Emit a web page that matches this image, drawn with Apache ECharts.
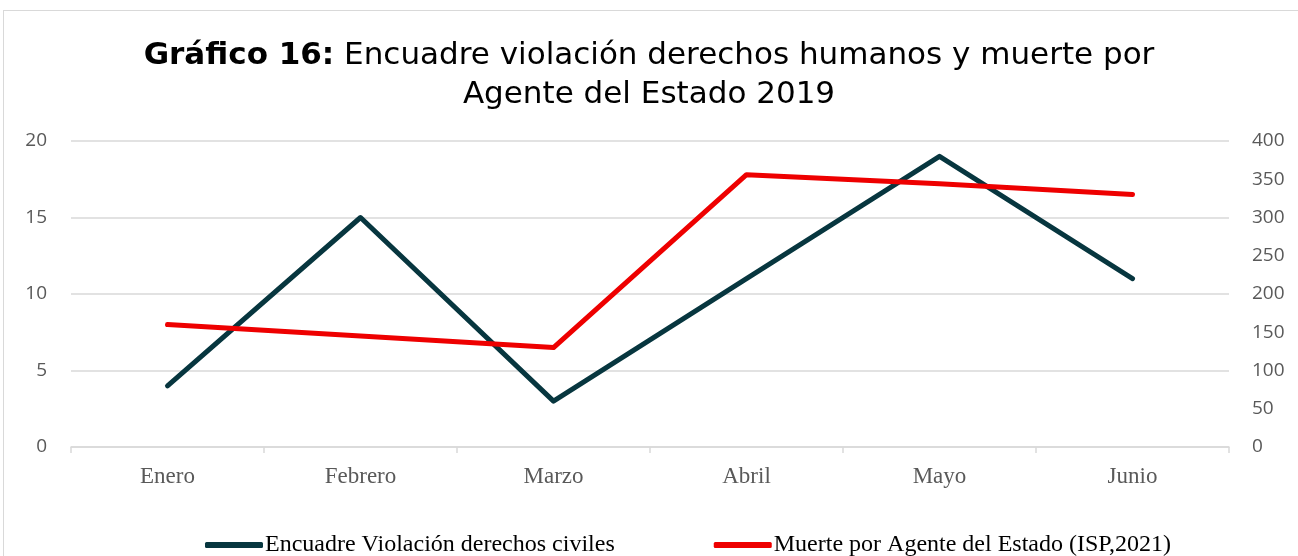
<!DOCTYPE html>
<html>
<head>
<meta charset="utf-8">
<script src="https://cdn.jsdelivr.net/npm/echarts@6/dist/echarts.min.js"></script>
<style>
html,body{margin:0;padding:0;background:#fff;overflow:hidden;}
#frame{position:absolute;left:3px;top:10px;width:1300px;height:560px;border:1.5px solid #d9d9d9;box-sizing:border-box;}
#chart{position:absolute;left:0;top:0;width:1298px;height:556px;}
</style>
</head>
<body>
<div id="frame"></div>
<div id="chart"></div>
<script>
var meses = ['Enero','Febrero','Marzo','Abril','Mayo','Junio'];
var violacion = [4, 15, 3, 11, 19, 11];
var muertes = [160, 145, 130, 356, 344, 330];
var nombreViolacion = 'Encuadre Violación derechos civiles';
var nombreMuertes = 'Muerte por Agente del Estado (ISP,2021)';

var chart = echarts.init(document.getElementById('chart'));
var option = {
	animation: false,
	title: {
		left: 'center',
		top: 31,
		padding: [5, 0, 5, 14],
		text: '{b|Gráfico 16:}{n| Encuadre violación derechos humanos y muerte por}\n{n|Agente del Estado 2019}',
		textStyle: {
			fontWeight: 'normal',
			rich: {
				b: { fontFamily: 'DejaVu Sans', fontWeight: 'bold', fontSize: 31, color: '#000', lineHeight: 39 },
				n: { fontFamily: 'DejaVu Sans', fontWeight: 'normal', fontSize: 31, color: '#000', lineHeight: 39 }
			}
		}
	},
	legend: {
		left: 200,
		top: 528,
		itemGap: 99,
		itemWidth: 58,
		itemHeight: 6,
		icon: 'roundRect',
		textStyle: {
			fontFamily: 'Liberation Serif',
			fontSize: 24,
			color: '#000',
			padding: [0, 0, 0, -3]
		},
		data: [nombreViolacion, nombreMuertes]
	},
	grid: { left: 71, right: 69, top: 141, bottom: 109 },
	xAxis: {
		type: 'category',
		data: meses,
		boundaryGap: true,
		axisLine: { lineStyle: { color: '#d9d9d9', width: 1.5 } },
		axisTick: { show: true, length: 6, lineStyle: { color: '#d9d9d9', width: 1.5 } },
		axisLabel: { fontFamily: 'Liberation Serif', fontSize: 23, color: '#595959', margin: 18 }
	},
	yAxis: [
		{
			type: 'value', min: 0, max: 20, interval: 5,
			axisLine: { show: false }, axisTick: { show: false },
			splitLine: { lineStyle: { color: '#d9d9d9', width: 1.5 } },
			axisLabel: { fontFamily: 'Open Sans', fontSize: 19, color: '#595959', margin: 24 }
		},
		{
			type: 'value', min: 0, max: 400, interval: 50,
			axisLine: { show: false }, axisTick: { show: false },
			splitLine: { show: false },
			axisLabel: { fontFamily: 'Open Sans', fontSize: 19, color: '#595959', margin: 23 }
		}
	],
	series: [
		{
			name: nombreViolacion,
			type: 'line',
			yAxisIndex: 0,
			data: violacion,
			symbol: 'none',
			color: '#07363f',
			lineStyle: { width: 5, color: '#07363f', cap: 'round', join: 'round' }
		},
		{
			name: nombreMuertes,
			type: 'line',
			yAxisIndex: 1,
			data: muertes,
			symbol: 'none',
			color: '#ee0000',
			lineStyle: { width: 5, color: '#ee0000', cap: 'round', join: 'round' }
		}
	]
};
chart.setOption(option);
</script>
</body>
</html>
